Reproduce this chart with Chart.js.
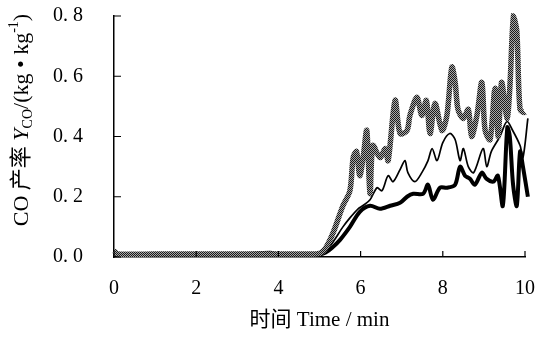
<!DOCTYPE html>
<html>
<head>
<meta charset="utf-8">
<script src="https://cdn.jsdelivr.net/npm/chart.js@4"></script>
<style>
  html, body { margin: 0; padding: 0; background: #fff; }
</style>
</head>
<body>
<canvas id="coChart" width="546" height="340"></canvas>
<script>
const xTicks = [0, 2, 4, 6, 8, 10];
const yTickLabels = ["0. 0", "0. 2", "0. 4", "0. 6", "0. 8"];

// gray stippled curve (highest)
const grayTime = [0, 0.1, 1, 2, 3, 4, 4.6, 5.0, 5.15, 5.33, 5.57, 5.74, 5.82, 5.9, 5.98, 6.07, 6.15, 6.23, 6.3, 6.47, 6.6, 6.67, 6.84, 6.96, 7.13, 7.2, 7.37, 7.49, 7.6, 7.69, 7.81, 7.98, 8.1, 8.22, 8.3, 8.37, 8.5, 8.62, 8.7, 8.83, 8.95, 9.03, 9.15, 9.27, 9.35, 9.43, 9.56, 9.63, 9.72, 9.8, 9.88, 10.0, 10.07, 10.1];
const grayYield = [0.02, 0.01, 0.01, 0.01, 0.01, 0.01, 0.01, 0.012, 0.03, 0.08, 0.17, 0.22, 0.33, 0.35, 0.27, 0.34, 0.42, 0.21, 0.37, 0.33, 0.36, 0.32, 0.52, 0.41, 0.42, 0.47, 0.53, 0.47, 0.52, 0.41, 0.51, 0.42, 0.47, 0.63, 0.58, 0.49, 0.46, 0.49, 0.40, 0.47, 0.58, 0.42, 0.39, 0.56, 0.40, 0.58, 0.46, 0.56, 0.80, 0.75, 0.49, 0.48, 0.51, 0.50];

// thin black curve (middle)
const thinTime = [0, 0.1, 1, 2, 3, 4, 4.6, 5.0, 5.15, 5.33, 5.57, 5.74, 5.94, 6.05, 6.23, 6.4, 6.52, 6.67, 6.79, 6.96, 7.08, 7.15, 7.32, 7.49, 7.64, 7.74, 7.86, 8.0, 8.17, 8.3, 8.42, 8.5, 8.62, 8.75, 8.98, 9.07, 9.18, 9.39, 9.56, 9.7, 9.88, 9.95, 10.07];
const thinYield = [0.015, 0.01, 0.01, 0.01, 0.01, 0.01, 0.01, 0.01, 0.02, 0.05, 0.10, 0.13, 0.16, 0.17, 0.19, 0.23, 0.22, 0.27, 0.25, 0.29, 0.32, 0.28, 0.25, 0.28, 0.32, 0.36, 0.32, 0.38, 0.41, 0.39, 0.32, 0.36, 0.30, 0.28, 0.36, 0.30, 0.35, 0.40, 0.45, 0.42, 0.37, 0.33, 0.46];

// thick black curve (lowest)
const thickTime = [0, 0.1, 1, 2, 3, 3.8, 4, 4.6, 5.0, 5.15, 5.3, 5.5, 5.74, 5.98, 6.23, 6.47, 6.72, 6.96, 7.13, 7.28, 7.52, 7.64, 7.76, 7.93, 8.1, 8.3, 8.42, 8.54, 8.66, 8.78, 8.95, 9.06, 9.23, 9.34, 9.46, 9.57, 9.63, 9.71, 9.8, 9.88, 9.95, 10.07];
const thickYield = [0.02, 0.008, 0.008, 0.008, 0.008, 0.014, 0.008, 0.008, 0.008, 0.015, 0.03, 0.057, 0.10, 0.15, 0.17, 0.16, 0.17, 0.18, 0.20, 0.21, 0.21, 0.24, 0.19, 0.23, 0.23, 0.24, 0.30, 0.27, 0.26, 0.24, 0.28, 0.26, 0.25, 0.27, 0.17, 0.43, 0.40, 0.24, 0.17, 0.35, 0.30, 0.20];

const serif = '"Liberation Serif", "Noto Sans CJK SC"';

function toPoints(ts, vs) {
  return ts.map((t, i) => ({ x: t, y: vs[i] }));
}

// halftone look for the gray curve
function stipple() {
  const c = document.createElement("canvas");
  c.width = 2;
  c.height = 2;
  const g = c.getContext("2d");
  g.fillStyle = "#a8a8a8";
  g.fillRect(0, 0, 2, 2);
  g.fillStyle = "#1a1a1a";
  g.fillRect(0, 0, 1, 1);
  g.fillRect(1, 1, 1, 1);
  return g.createPattern(c, "repeat");
}

const innerTicks = {
  id: "innerTicks",
  afterDraw(chart) {
    const { ctx, chartArea, scales } = chart;
    ctx.save();
    ctx.strokeStyle = "#000";
    ctx.lineWidth = 1.2;
    ctx.beginPath();
    xTicks.forEach((v) => {
      const px = scales.x.getPixelForValue(v);
      ctx.moveTo(px, chartArea.bottom);
      ctx.lineTo(px, chartArea.bottom - 6);
    });
    scales.y.ticks.forEach((t) => {
      const py = scales.y.getPixelForValue(t.value);
      ctx.moveTo(chartArea.left, py);
      ctx.lineTo(chartArea.left + 7, py);
    });
    ctx.stroke();
    ctx.restore();
  },
};

// y title with subscript / superscript, rotated
const yTitle = {
  id: "yTitle",
  afterDraw(chart) {
    const ctx = chart.ctx;
    const parts = [
      { text: "CO 产率 ", font: "22px " + serif, dy: 0 },
      { text: "Y", font: "italic 22px " + serif, dy: 0 },
      { text: "CO", font: "14px " + serif, dy: 6 },
      { text: "/(kg • kg", font: "22px " + serif, dy: 0 },
      { text: "-1", font: "14px " + serif, dy: -8 },
      { text: ")", font: "22px " + serif, dy: 0 },
    ];
    ctx.save();
    ctx.fillStyle = "#000";
    ctx.textBaseline = "middle";
    let total = 0;
    parts.forEach((p) => {
      ctx.font = p.font;
      p.w = ctx.measureText(p.text).width;
      total += p.w;
    });
    ctx.translate(22, 120);
    ctx.rotate(-Math.PI / 2);
    let x = -total / 2;
    parts.forEach((p) => {
      ctx.font = p.font;
      ctx.fillText(p.text, x, p.dy);
      x += p.w;
    });
    ctx.restore();
  },
};

const data = {
  datasets: [
    {
      label: "gray",
      data: toPoints(grayTime, grayYield),
      borderColor: stipple(),
      borderWidth: 5.5,
    },
    {
      label: "thin",
      data: toPoints(thinTime, thinYield),
      borderColor: "#000",
      borderWidth: 1.7,
    },
    {
      label: "thick",
      data: toPoints(thickTime, thickYield),
      borderColor: "#000",
      borderWidth: 4,
    },
  ],
};

const config = {
  type: "line",
  data,
  options: {
    responsive: false,
    animation: false,
    clip: false,
    layout: { padding: { left: 0, right: 21, top: 16, bottom: 0 } },
    elements: {
      point: { radius: 0 },
      line: { tension: 0.3, fill: false },
    },
    plugins: {
      legend: { display: false },
      tooltip: { enabled: false },
    },
    scales: {
      x: {
        type: "linear",
        min: 0,
        max: 10,
        afterBuildTicks: (s) => {
          s.ticks = xTicks.map((v) => ({ value: v }));
        },
        afterFit: (s) => {
          s.height = 83;
          s.paddingLeft = 0;
          s.paddingRight = 0;
        },
        grid: { drawOnChartArea: false, drawTicks: false },
        border: { color: "#000", width: 1.5 },
        ticks: {
          padding: 20,
          color: "#000",
          font: { family: serif, size: 20 },
          maxRotation: 0,
        },
        title: {
          display: true,
          text: "时间 Time / min",
          color: "#000",
          font: { family: serif, size: 21 },
          padding: { top: 0, bottom: 7 },
        },
      },
      y: {
        min: 0,
        max: 0.8,
        afterFit: (s) => {
          s.width = 114;
          s.paddingTop = 0;
          s.paddingBottom = 0;
        },
        grid: { drawOnChartArea: false, drawTicks: false },
        border: { color: "#000", width: 1.5 },
        ticks: {
          stepSize: 0.2,
          padding: 31,
          color: "#000",
          font: { family: serif, size: 20 },
          callback: (v) => yTickLabels[Math.round(v / 0.2)],
        },
      },
    },
  },
  plugins: [innerTicks, yTitle],
};

const ctx = document.getElementById("coChart").getContext("2d");
const chart = new Chart(ctx, config);
</script>
</body>
</html>
